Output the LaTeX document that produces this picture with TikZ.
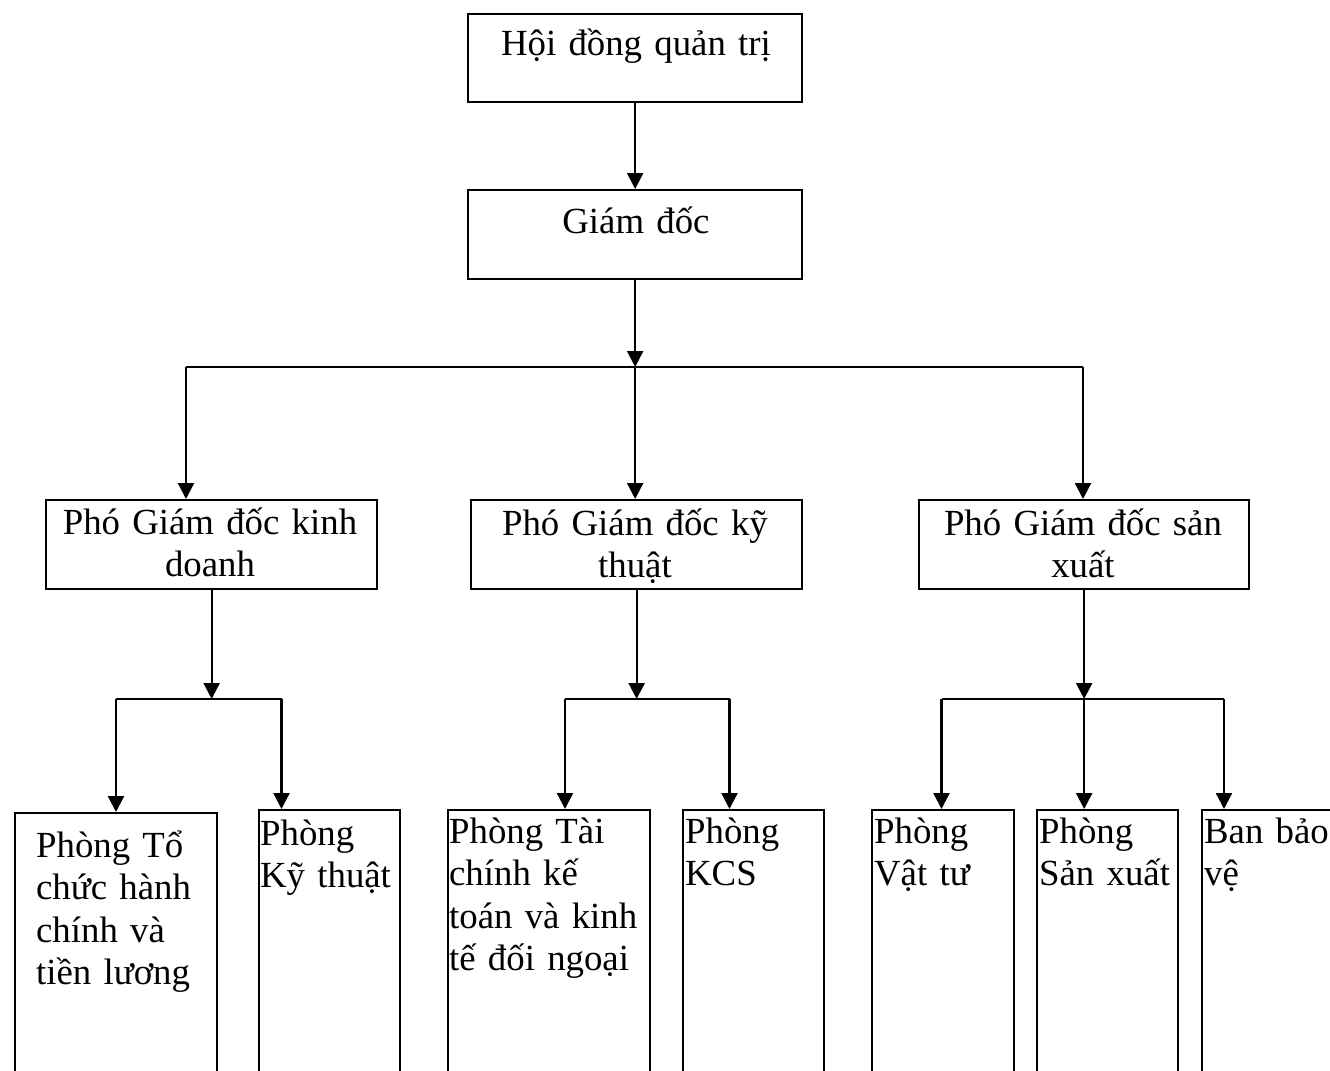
\documentclass[tikz,border=0pt]{standalone}
\usepackage{fontspec}
\setmainfont{Liberation Serif}
\usetikzlibrary{arrows.meta}
% one drawing unit = 0.5pt
\newcommand\pxl[1]{#1*0.5pt}

\begin{document}
\begin{tikzpicture}[x=0.5pt,y=-0.5pt,
  line width=1.15pt,
  font=\fontsize{18.4pt}{21.3pt}\selectfont,
  box/.style 2 args={draw, line width=1.15pt, inner sep=0pt, anchor=north west,
    minimum width=\pxl{#1}, minimum height=\pxl{#2}},
  ctext/.style={anchor=base, inner sep=0pt, align=center, text width=\pxl{#1}},
  ltext/.style={anchor=base west, inner sep=0pt, align=left, text width=\pxl{220}},
  arr/.style={-{Triangle[length=8pt,width=8pt]}}]

\useasboundingbox (0,0) rectangle (1330,1071);
\clip (0,0) rectangle (1330,1071);

% board and director
\node[box={334}{88}] (hdqt) at (467,13) {};
\node[ctext=334] (hdqtT) at (636,55) {Hội đồng quản trị};
\node[box={334}{89}] (gd) at (467,189) {};
\node[ctext=334] (gdT) at (636,233) {Giám đốc};

% deputy directors
\node[box={331}{89}] (pkd) at (45,499) {};
\node[ctext=331] (pkdT) at (210,534) {Phó Giám đốc kinh\\doanh};
\node[box={331}{89}] (pkt) at (470,499) {};
\node[ctext=331] (pktT) at (635,535) {Phó Giám đốc kỹ\\thuật};
\node[box={330}{89}] (psx) at (918,499) {};
\node[ctext=330] (psxT) at (1083,535) {Phó Giám đốc sản\\xuất};

% departments (open at the bottom edge)
\node[box={202}{300}] (b1) at (14,812) {};
\node[ltext] (b1T) at (35,857) {Phòng Tổ\\chức hành\\chính và\\tiền lương};
\node[box={141}{300}] (b2) at (258,809) {};
\node[ltext] (b2T) at (259,845) {Phòng\\Kỹ thuật};
\node[box={202}{300}] (b3) at (447,809) {};
\node[ltext] (b3T) at (448,843) {Phòng Tài\\chính kế\\toán và kinh\\tế đối ngoại};
\node[box={141}{300}] (b4) at (682,809) {};
\node[ltext] (b4T) at (684,843) {Phòng\\KCS};
\node[box={142}{300}] (b5) at (871,809) {};
\node[ltext] (b5T) at (873,843) {Phòng\\Vật tư};
\node[box={141}{300}] (b6) at (1036,809) {};
\node[ltext] (b6T) at (1038,843) {Phòng\\Sản xuất};
\node[box={180}{300}] (b7) at (1201,809) {};
\node[ltext] (b7T) at (1203,843) {Ban bảo\\vệ};

% junction points on the distribution bars
\coordinate (j1) at (634,367);
\coordinate (jl) at (186,367);
\coordinate (jr) at (1083,367);
\coordinate (k1l) at (116,699);
\coordinate (k1r) at (281.5,699);
\coordinate (k2l) at (565,699);
\coordinate (k2r) at (729.5,699);
\coordinate (k3l) at (941.5,699);
\coordinate (k3r) at (1224,699);

% top chain
\draw[arr] (hdqt.south) -- (gd.north);
\draw[arr] (gd.south) -- (gd.south |- j1);
\draw (jl) -- (jr);
\draw[arr] (jl) -- (jl |- pkd.north);
\draw[arr] (gd.south |- j1) -- (gd.south |- pkt.north);
\draw[arr] (jr) -- (jr |- psx.north);

% business branch
\draw[arr] (pkd.south) -- (pkd.south |- k1l);
\draw (k1l) -- (k1r);
\draw[arr] (k1l) -- (k1l |- b1.north);
\draw[arr] (k1r) -- (k1r |- b2.north);

% technical branch
\draw[arr] (pkt.south) -- (pkt.south |- k2l);
\draw (k2l) -- (k2r);
\draw[arr] (k2l) -- (k2l |- b3.north);
\draw[arr] (k2r) -- (k2r |- b4.north);

% production branch
\draw[arr] (psx.south) -- (psx.south |- k3l);
\draw (k3l) -- (k3r);
\draw[arr] (k3l) -- (k3l |- b5.north);
\draw[arr] (psx.south |- k3l) -- (psx.south |- b6.north);
\draw[arr] (k3r) -- (k3r |- b7.north);

\end{tikzpicture}
\end{document}
